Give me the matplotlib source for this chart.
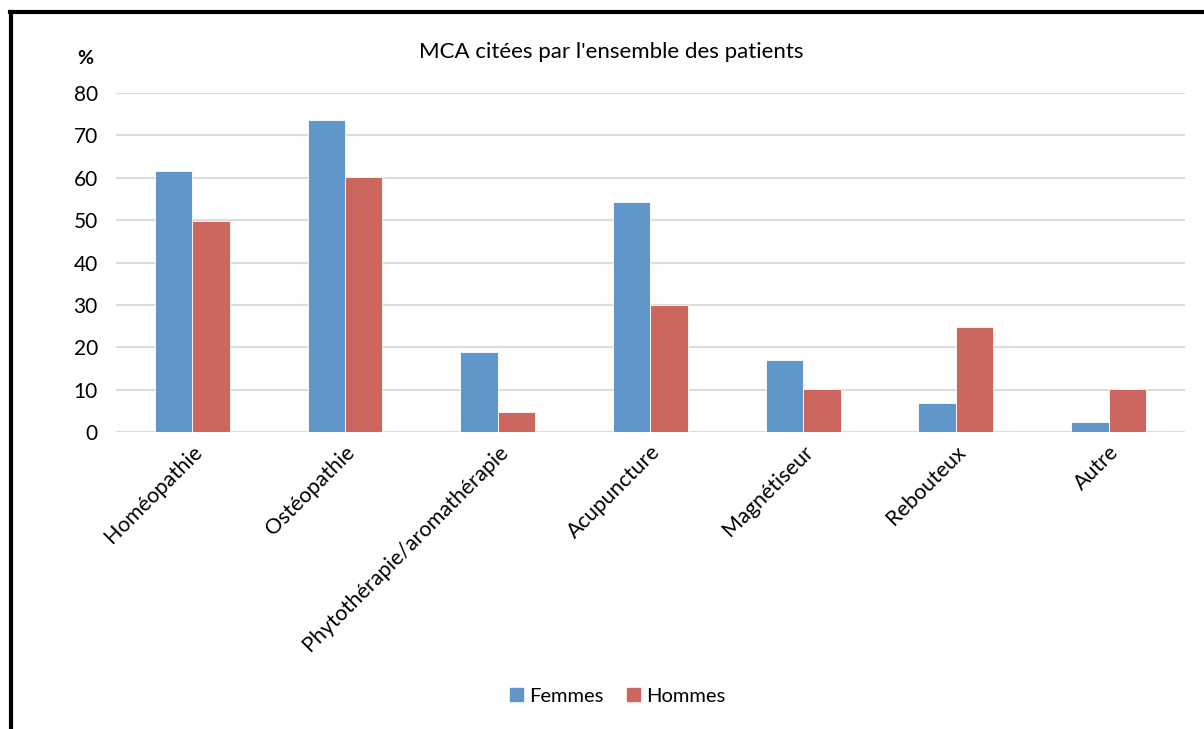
import matplotlib.pyplot as plt
import numpy as np
from matplotlib.lines import Line2D
from matplotlib.patches import Patch

categories = ["Homéopathie", "Ostéopathie", "Phytothérapie/aromathérapie",
              "Acupuncture", "Magnétiseur", "Rebouteux", "Autre"]
femmes = [61.6, 73.6, 18.9, 54.3, 16.9, 6.9, 2.3]
hommes = [49.8, 60.1, 4.8, 30.0, 10.1, 24.7, 10.1]

BLUE = "#6096CA"
RED = "#CD665F"

plt.rcParams["font.family"] = ["Lato", "DejaVu Sans"]

fig = plt.figure(figsize=(12.04, 7.29), dpi=100)
ax = fig.add_axes([0.0963, 0.4074, 0.8878, 0.465])

x = np.arange(len(categories))
w = 0.245
ax.bar(x - w / 2, femmes, w, color=BLUE, edgecolor="white", linewidth=0.6, zorder=3)
ax.bar(x + w / 2, hommes, w, color=RED, edgecolor="white", linewidth=0.6, zorder=3)

ax.set_xlim(-0.5, len(categories) - 0.5)
ax.set_ylim(0, 80)
ax.set_yticks(range(0, 81, 10))
ax.yaxis.grid(True, color="#dcdcdc", linewidth=1.5, zorder=0)
ax.set_axisbelow(True)
for s in ax.spines.values():
    s.set_visible(False)
ax.axhline(0, color="#dcdcdc", linewidth=1.5, zorder=2)

ax.tick_params(axis="y", length=0, pad=13, labelsize=15)
ax.tick_params(axis="x", length=0, pad=7)
ax.set_xticks(x)
ax.set_xticklabels(categories, rotation=45, ha="right", va="top",
                   rotation_mode="anchor", fontsize=15.5)

fig.text(0.0705, 0.92, "%", fontsize=14, fontweight="bold", ha="center", va="center")
fig.text(0.508, 0.929, "MCA citées par l'ensemble des patients", fontsize=16,
         ha="center", va="center")

handles = [Patch(color=BLUE, label="Femmes"), Patch(color=RED, label="Hommes")]
fig.legend(handles=handles, loc="center", bbox_to_anchor=(0.513, 0.045), ncol=2,
           frameon=False, fontsize=14.5, handlelength=0.65, handleheight=0.65,
           handletextpad=0.3, columnspacing=1.2)

# frame of the original (left and top edges only)
fig.add_artist(Line2D([0.0095, 0.0095], [0.0, 0.984], color="black", linewidth=3,
                      transform=fig.transFigure))
fig.add_artist(Line2D([0.0083, 1.0], [0.983, 0.983], color="black", linewidth=3,
                      transform=fig.transFigure))

fig.savefig("out.png", dpi=100)
